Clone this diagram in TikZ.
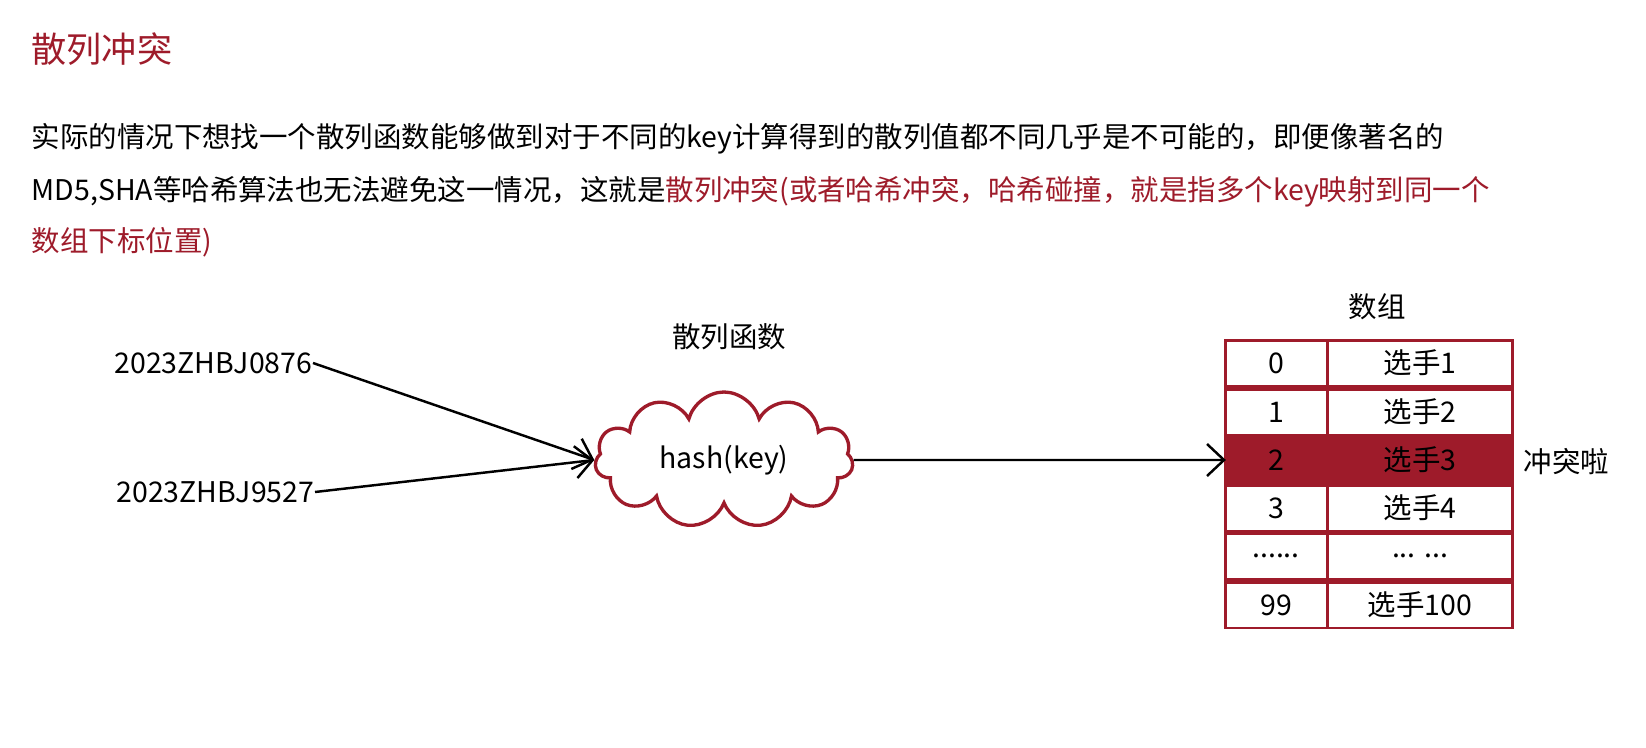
\documentclass[tikz,border=0pt]{standalone}
\usepackage{fontspec}
\setmainfont{Noto Sans CJK SC}
\usetikzlibrary{shapes.symbols,arrows.meta}
\definecolor{hashred}{RGB}{158,27,42}

\begin{document}
\begin{tikzpicture}[
    txt/.style={font=\fontsize{8.1}{9.7}\selectfont, inner sep=0pt},
    cell/.style={txt, rectangle, fill=white, minimum height=0.43cm},
    idx/.style={cell, minimum width=0.99cm},
    val/.style={cell, minimum width=1.82cm},
    hit/.style={fill=none},
    link/.style={-{Straight Barb[length=1.7mm,width=3.2mm]}, line width=0.7pt}
]
    \useasboundingbox (0,0) rectangle (16.46,7.47);
    \fill[white] (0,0) rectangle (16.46,7.47);

    % Titolo
    \node[txt, font=\fontsize{10}{12}\selectfont, text=hashred, anchor=base west] (title) at (0.31, 6.845) {散列冲突};

    % Testo
    \node[txt, anchor=base west] (line1) at (0.31, 5.99) {实际的情况下想找一个散列函数能够做到对于不同的key计算得到的散列值都不同几乎是不可能的，即便像著名的};
    \node[txt, anchor=base west] (line2) at (0.31, 5.46) {MD5,SHA等哈希算法也无法避免这一情况，这就是\textcolor{hashred}{散列冲突(或者哈希冲突，哈希碰撞，就是指多个key映射到同一个}};
    \node[txt, anchor=base west, text=hashred] (line3) at (0.31, 4.96) {数组下标位置)};

    % Chiavi
    \node[txt, anchor=east] (k1) at (3.13, 3.84) {2023ZHBJ0876};
    \node[txt, anchor=east] (k2) at (3.15, 2.55) {2023ZHBJ9527};

    % Funzione
    \node[txt] (fname) at (7.29, 4.10) {散列函数};
    \node[txt, cloud, cloud puffs=11, aspect=1.9, draw=hashred, line width=0.95pt, fill=white,
          minimum width=2.58cm, minimum height=1.36cm] (hash) at (7.24, 2.87) {hash(key)};

    % Array
    \node[txt] (aname) at (13.77, 4.40) {数组};
    \node[fill=hashred, minimum width=2.90cm, minimum height=2.90cm, inner sep=0pt] (arr) at (13.69, 2.63) {};

    \node[idx] (r0a) at (12.76, 3.84) {0};
    \node[val] (r0b) at (14.20, 3.84) {选手1};
    \node[idx] (r1a) at (12.76, 3.35) {1};
    \node[val] (r1b) at (14.20, 3.35) {选手2};
    \node[idx, hit] (r2a) at (12.76, 2.87) {2};
    \node[val, hit] (r2b) at (14.20, 2.87) {选手3};
    \node[idx] (r3a) at (12.76, 2.39) {3};
    \node[val] (r3b) at (14.20, 2.39) {选手4};
    \node[idx] (r4a) at (12.76, 1.91) {......};
    \node[val] (r4b) at (14.20, 1.91) {... ...};
    \node[idx] (r5a) at (12.76, 1.42) {99};
    \node[val] (r5b) at (14.20, 1.42) {选手100};

    \node[txt, anchor=west] (clash) at (15.23, 2.85) {冲突啦};

    \draw[link] (k1.east) -- (hash.west);
    \draw[link] (k2.east) -- (hash.west);
    \draw[link] (hash.east) -- (r2a.west);
\end{tikzpicture}
\end{document}
